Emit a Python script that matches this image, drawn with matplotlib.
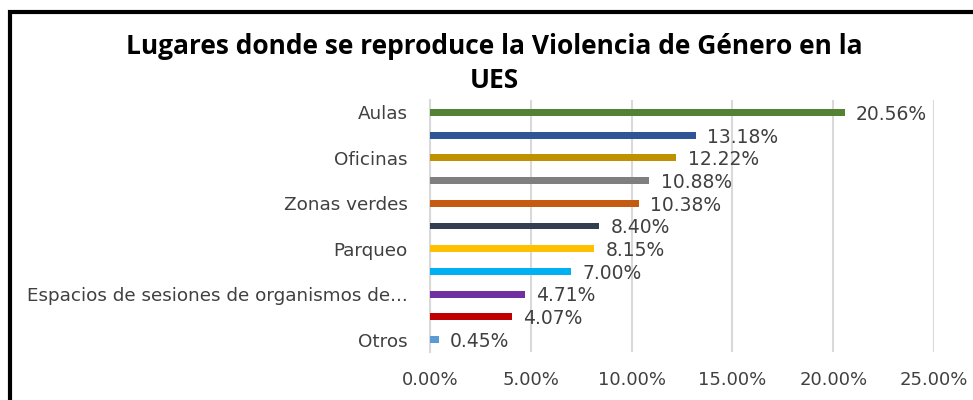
import matplotlib.pyplot as plt
from matplotlib.patches import Rectangle
from matplotlib.ticker import FuncFormatter

plt.rcParams['font.family'] = ['DejaVu Sans']

categories = ['Aulas', '', 'Oficinas', '', 'Zonas verdes', '', 'Parqueo', '',
              'Espacios de sesiones de organismos de...', '', 'Otros']
values = [20.56, 13.18, 12.22, 10.88, 10.38, 8.40, 8.15, 7.00, 4.71, 4.07, 0.45]
colors = ['#548235', '#2F5597', '#BF9000', '#7F7F7F', '#C55A11', '#333F50',
          '#FFC000', '#00B0F0', '#7030A0', '#C00000', '#5B9BD5']
xticks = [0, 5, 10, 15, 20, 25]

fig = plt.figure(figsize=(9.73, 4.0), dpi=100)
ax = fig.add_axes([0.442, 0.12, 0.518, 0.63])

ypos = list(range(len(values)))[::-1]
ax.barh(ypos, values, height=0.3, color=colors, zorder=3)
for y, v in zip(ypos, values):
    ax.text(v + 0.55, y - 0.08, f'{v:.2f}%', va='center', ha='left',
            fontsize=13.5, color='#404040')

ax.set_yticks(ypos)
ax.set_yticklabels(categories, fontsize=13.2, color='#404040')
ax.set_xticks(xticks)
ax.xaxis.set_major_formatter(FuncFormatter(lambda x, p: f'{x:.2f}%'))
ax.set_xlim(0, 25)
ax.set_ylim(-0.55, 10.55)
ax.tick_params(axis='x', labelsize=13, labelcolor='#404040', length=0, pad=14)
ax.tick_params(axis='y', length=0, pad=16)
ax.grid(axis='x', color='#d9d9d9', linewidth=1.5, zorder=0)
for s in ['top', 'right', 'bottom']:
    ax.spines[s].set_visible(False)
ax.spines['left'].set_color('#d9d9d9')
ax.spines['left'].set_linewidth(1.5)

title_font = ['Open Sans', 'DejaVu Sans']
fig.text(0.508, 0.885, 'Lugares donde se reproduce la Violencia de Género en la',
         ha='center', va='center', fontsize=19, fontweight='bold',
         family=title_font, color='#000000')
fig.text(0.508, 0.8, 'UES', ha='center', va='center', fontsize=19,
         fontweight='bold', family=title_font, color='#000000')

fig.patches.append(Rectangle((0.01, -0.1), 1.1, 1.07, transform=fig.transFigure,
                             fill=False, edgecolor='black', linewidth=3))

fig.savefig('out.png', dpi=100)
